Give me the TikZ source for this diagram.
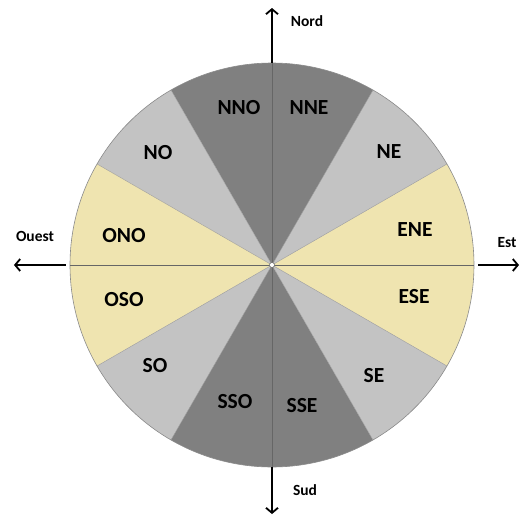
\documentclass[tikz,border=0pt]{standalone}
\usepackage{fontspec}
\setmainfont{Carlito}
\usetikzlibrary{arrows.meta}
\definecolor{darksec}{HTML}{808080}
\definecolor{lightsec}{HTML}{C3C3C3}
\definecolor{yellowsec}{HTML}{EFE4B0}
\definecolor{rimcol}{HTML}{8A8A8A}
\definecolor{axiscol}{HTML}{666666}
\begin{document}
\begin{tikzpicture}[x=1pt,y=1pt,
  sectorlab/.style={font=\fontsize{21.5}{21.5}\selectfont\bfseries, inner sep=0pt},
  dirlab/.style={font=\fontsize{15.5}{15.5}\selectfont\bfseries, inner sep=0pt},
  dirarrow/.style={line width=1.8pt, -{Straight Barb[length=5pt,width=12pt,line width=1.8pt]}},
  sectorline/.style={draw=lightsec!80!black, line width=0.4pt}]
\useasboundingbox (-272,-250) rectangle (248,265);
\def\R{202}
\coordinate (O) at (0,0);
% sectors
\foreach \a/\b/\col in {-30/30/yellowsec,30/60/lightsec,60/120/darksec,120/150/lightsec,150/210/yellowsec,210/240/lightsec,240/300/darksec,300/330/lightsec}{
  \fill[\col] (O) -- (\a:\R) arc[start angle=\a, end angle=\b, radius=\R] -- cycle;
}
\foreach \a in {30,60,120,150,210,240,300,330}{
  \draw[sectorline] (O) -- (\a:\R);
}
\draw[rimcol, line width=0.6pt] (O) circle[radius=\R];
\coordinate (Ntop) at (90:\R);
\coordinate (Sbot) at (270:\R);
\coordinate (Wl) at (180:\R);
\coordinate (Er) at (0:\R);
\draw[axiscol, line width=0.6pt] (Ntop) -- (Sbot);
\draw[axiscol, line width=0.6pt] (Wl) -- (Er);
\draw[axiscol, fill=white, line width=0.5pt] (O) circle[radius=2.5];
% arrows
\coordinate (Nend) at (0,257);
\coordinate (Send) at (0,-249);
\coordinate (Wstart) at (-206,0);
\coordinate (Wend) at (-258,0);
\coordinate (Estart) at (206,0);
\coordinate (Eend) at (247,0);
\draw[dirarrow] (Ntop) -- (Nend);
\draw[dirarrow] (Sbot) -- (Send);
\draw[dirarrow] (Wstart) -- (Wend);
\draw[dirarrow] (Estart) -- (Eend);
% direction labels
\node[dirlab] (nord) at (35,244) {Nord};
\node[dirlab] (sud) at (33,-225) {Sud};
\node[dirlab] (ouest) at (-237,29) {Ouest};
\node[dirlab] (est) at (235,22) {Est};
% sector labels
\node[sectorlab] (nno) at (-33,157) {NNO};
\node[sectorlab] (nne) at (37,157) {NNE};
\node[sectorlab] (no) at (-114,112) {NO};
\node[sectorlab] (ne) at (117,113) {NE};
\node[sectorlab] (ono) at (-148,29) {ONO};
\node[sectorlab] (ene) at (143,35) {ENE};
\node[sectorlab] (oso) at (-148,-35) {OSO};
\node[sectorlab] (ese) at (142,-32) {ESE};
\node[sectorlab] (so) at (-117,-101) {SO};
\node[sectorlab] (se) at (102,-111) {SE};
\node[sectorlab] (sso) at (-37,-137) {SSO};
\node[sectorlab] (sse) at (30,-141) {SSE};
\end{tikzpicture}
\end{document}
